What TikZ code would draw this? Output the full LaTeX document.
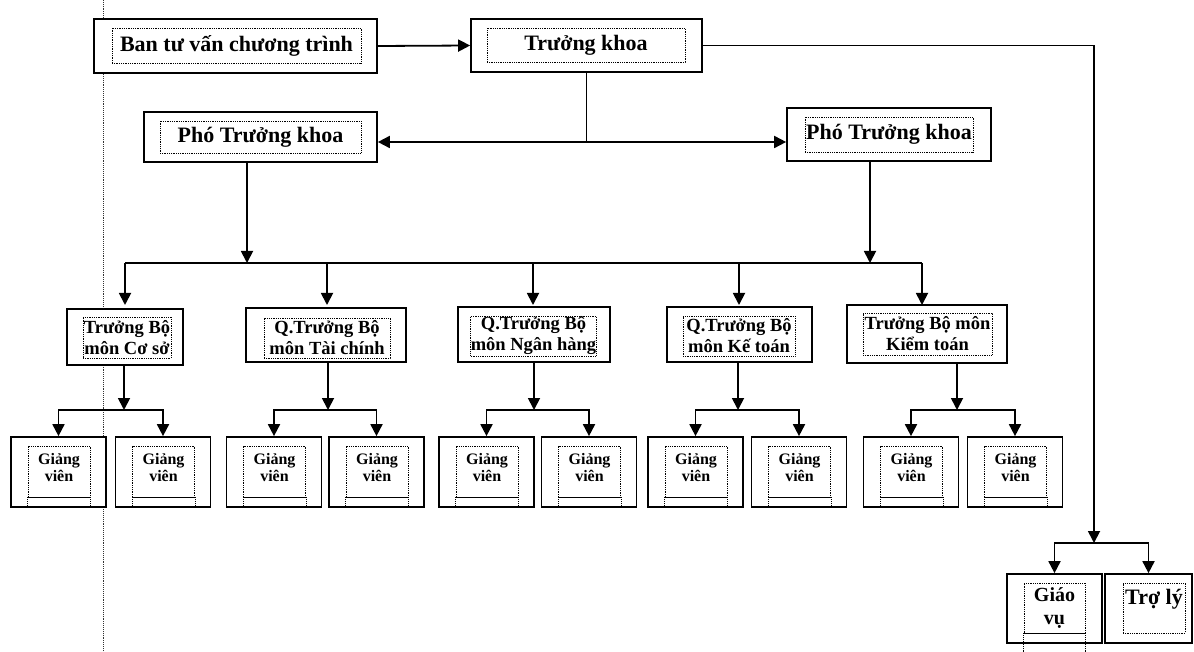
\documentclass[tikz,border=0pt]{standalone}
\usepackage{fontspec}
\setmainfont{Liberation Serif}
\usetikzlibrary{arrows.meta}
\begin{document}
\begin{tikzpicture}[x=1pt, y=-1pt, >={Triangle[length=12pt,width=12pt]}]
  \tikzstyle{box}=[draw, line width=1.7pt, fill=white, inner sep=0pt]
  \tikzstyle{txt}=[draw, densely dotted, line width=0.8pt, align=center, inner sep=0pt]
  \tikzstyle{big}=[font=\fontsize{22}{26}\selectfont\bfseries]
  \tikzstyle{mid}=[font=\fontsize{18.5}{21}\selectfont\bfseries]
  \tikzstyle{small}=[font=\fontsize{16}{17}\selectfont\bfseries]
  \tikzstyle{link}=[line width=1.8pt]
  \useasboundingbox (0,0) rectangle (1194,652);
  \draw[densely dotted, line width=0.9pt, black!80] (103,0) -- (103,652);
  \node[box, minimum width=283pt, minimum height=54pt] (ban) at (235.5,46) {};
  \node[txt, big, minimum width=249pt, minimum height=35pt] (bant) at (236.5,45.5) {Ban tư vấn chương trình};
  \node[box, minimum width=231pt, minimum height=53pt] (tk) at (586.5,45.5) {};
  \node[txt, big, minimum width=198pt, minimum height=34pt] (tkt) at (586,45) {Trưởng khoa};
  \node[box, minimum width=233pt, minimum height=50pt] (phoL) at (260.5,137) {};
  \node[txt, big, minimum width=201pt, minimum height=32pt] (phoLt) at (260.5,137) {Phó Trưởng khoa};
  \node[box, minimum width=204pt, minimum height=53pt] (phoR) at (889,134.5) {};
  \node[txt, big, minimum width=168pt, minimum height=35pt] (phoRt) at (889,134.5) {Phó Trưởng khoa};
  \node[box, minimum width=116pt, minimum height=56pt] (coso) at (125,337) {};
  \node[txt, mid, minimum width=88pt, minimum height=41pt] (cosot) at (127,337.5) {Trưởng Bộ\\môn Cơ sở};
  \node[box, minimum width=160pt, minimum height=54pt] (taichinh) at (326,335) {};
  \node[txt, mid, minimum width=126pt, minimum height=40pt] (taichinht) at (327,338) {Q.Trưởng Bộ\\môn Tài chính};
  \node[box, minimum width=152pt, minimum height=55pt] (nganhang) at (534,334.5) {};
  \node[txt, mid, minimum width=119pt, minimum height=40pt] (nganhangt) at (533.5,336) {Q.Trưởng Bộ\\môn Ngân hàng};
  \node[box, minimum width=145pt, minimum height=55pt] (ketoan) at (739.5,334.5) {};
  \node[txt, mid, minimum width=112pt, minimum height=40pt] (ketoant) at (739,336) {Q.Trưởng Bộ\\môn Kế toán};
  \node[box, minimum width=160pt, minimum height=58pt] (kiemtoan) at (927,334) {};
  \node[txt, mid, minimum width=129pt, minimum height=42pt] (kiemtoant) at (927.5,334) {Trưởng Bộ môn\\Kiểm toán};
  \foreach \i/\x in {1/58.5, 2/163, 3/274, 4/376.5, 5/486.5, 6/589, 7/695.5, 8/799, 9/911, 10/1015} {
    \node[box, minimum width=95pt, minimum height=70pt] (gv\i) at (\x,472) {};
    \node[txt, small, minimum width=62pt, minimum height=51pt] (gvt\i) at (\x+0.5,471.5) {Giảng\\viên\\[-8pt]\mbox{}};
    \draw[line width=1.4pt] (gvt\i.south west) -- (gvt\i.south east);
    \draw[densely dotted, line width=0.8pt] (gvt\i.south west) -- (gvt\i.south west |- gv\i.south)
      (gvt\i.south east) -- (gvt\i.south east |- gv\i.south);
  }
  \node[box, minimum width=95pt, minimum height=69pt] (giaovu) at (1054.5,608.5) {};
  \node[txt, font=\fontsize{20}{23}\selectfont\bfseries, minimum width=61pt, minimum height=50pt] (giaovut) at (1054.5,608) {Giáo\\vụ};
  \draw[line width=1.4pt] (giaovut.south west) -- (giaovut.south east);
  \draw[densely dotted, line width=0.8pt] (giaovut.south west) -- (giaovut.south west |- 0,652)
    (giaovut.south east) -- (giaovut.south east |- 0,652);
  \node[box, minimum width=87pt, minimum height=69pt] (troly) at (1148.5,608.5) {};
  \node[txt, font=\fontsize{22}{23}\selectfont\bfseries, minimum width=62pt, minimum height=50pt] (trolyt) at (1154,608) {Trợ lý\\~};
  \draw[link, ->] (ban.east) -- (tk.west);
  \coordinate (top) at (586.5,142);
  \draw[link] (tk.south) -- (top);
  \draw[link, <->] (phoL.east |- top) -- (phoR.west |- top);
  \coordinate (gvbus) at (1094,543);
  \draw[link, ->] (tk.east) -| (gvbus);
  \draw[link, ->] (gvbus) -| (giaovu.north);
  \draw[link, ->] (gvbus) -| (troly.north);
  \coordinate (busL) at (247,263);
  \coordinate (busR) at (870,263);
  \draw[link, ->] (busL |- phoL.south) -- (busL);
  \draw[link, ->] (busR |- phoR.south) -- (busR);
  \draw[link] (coso.north |- busL) -- (922,263);
  \foreach \n/\x in {coso/125, taichinh/327, nganhang/533, ketoan/739, kiemtoan/922}
    \draw[link, ->] (\x,263) -- (\x,305);
  \foreach \n/\x/\a/\b in {coso/124/1/2, taichinh/328/3/4, nganhang/534/5/6, ketoan/738/7/8, kiemtoan/957/9/10} {
    \coordinate (\n-b) at (\x,410);
    \draw[link, ->] (\n-b |- \n.south) -- (\n-b);
    \draw[link, ->] (\n-b) -| (gv\a.north);
    \draw[link, ->] (\n-b) -| (gv\b.north);
  }
\end{tikzpicture}
\end{document}
